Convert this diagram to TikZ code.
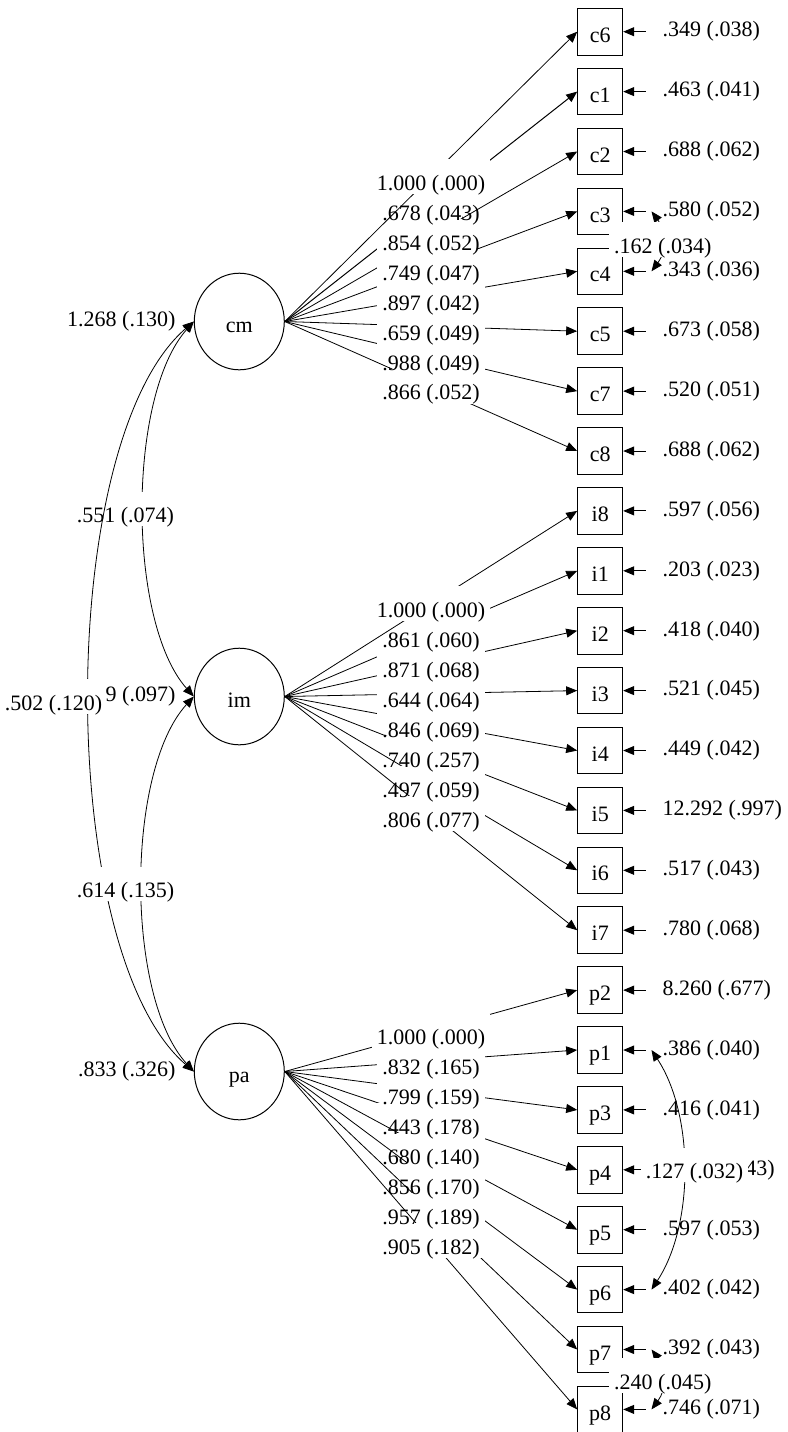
\documentclass[tikz,border=0pt]{standalone}
\usepackage{fontspec}
\setmainfont{Liberation Serif}
\usetikzlibrary{positioning}
\usetikzlibrary{shapes.geometric}
\usetikzlibrary{arrows.meta}
\pgfdeclarelayer{front}
\pgfsetlayers{main,front}
\tikzset{obs/.style = {draw, rectangle, minimum width=22.5pt, minimum height=23.3pt, inner sep=0pt, text height=10.6pt, text depth=0pt, node distance=6.15pt}}
\tikzset{lat/.style = {draw, ellipse, minimum width=45pt, minimum height=48.3pt, inner sep=0pt, text height=11pt, text depth=0pt}}
\tikzset{lbl/.style = {inner xsep=2.5pt, inner ysep=0pt, text height=15.5pt, text depth=1.8pt}}
\tikzset{lblbox/.style = {lbl, fill=white}}
\tikzset{res/.style = {anchor=west, inner sep=0pt}}
\tikzset{var/.style = {anchor=east, inner sep=0pt}}
\tikzset{load/.style = {-{Triangle[length=5.5pt,width=4.5pt]}}}
\tikzset{cov/.style = {{Triangle[length=5.5pt,width=4.5pt]}-{Triangle[length=5.5pt,width=4.5pt]}}}

\begin{document}
\begin{tikzpicture}[x=0.5pt, y=-0.5pt, line width=0.5pt, font=\fontsize{11}{13}\selectfont]
\useasboundingbox (0,0) rectangle (788,1432);
% latent variables
\node[lat](cm) at (239.3,321.5) {cm};
\node[lat](im) at (239.3,696.5) {im};
\node[lat](pa) at (239.3,1071.5) {pa};
% indicators
\node[obs](c6) at (600.2,31.7) {c6};
\node[obs,below = of c6](c1) {c1};
\node[obs,below = of c1](c2) {c2};
\node[obs,below = of c2](c3) {c3};
\node[obs,below = of c3](c4) {c4};
\node[obs,below = of c4](c5) {c5};
\node[obs,below = of c5](c7) {c7};
\node[obs,below = of c7](c8) {c8};
\node[obs,below = of c8](i8) {i8};
\node[obs,below = of i8](i1) {i1};
\node[obs,below = of i1](i2) {i2};
\node[obs,below = of i2](i3) {i3};
\node[obs,below = of i3](i4) {i4};
\node[obs,below = of i4](i5) {i5};
\node[obs,below = of i5](i6) {i6};
\node[obs,below = of i6](i7) {i7};
\node[obs,below = of i7](p2) {p2};
\node[obs,below = of p2](p1) {p1};
\node[obs,below = of p1](p3) {p3};
\node[obs,below = of p3](p4) {p4};
\node[obs,below = of p4](p5) {p5};
\node[obs,below = of p5](p6) {p6};
\node[obs,below = of p6](p7) {p7};
\node[obs,below = of p7](p8) {p8};
% residual variances
\foreach \v/\val in {c6/.349 (.038), c1/.463 (.041), c2/.688 (.062), c3/.580 (.052), c4/.343 (.036), c5/.673 (.058), c7/.520 (.051), c8/.688 (.062),
  i8/.597 (.056), i1/.203 (.023), i2/.418 (.040), i3/.521 (.045), i4/.449 (.042), i5/12.292 (.997), i6/.517 (.043), i7/.780 (.068),
  p2/8.260 (.677), p1/.386 (.040), p3/.416 (.041), p5/.597 (.053), p6/.402 (.042), p7/.392 (.043), p8/.746 (.071)} {
  \coordinate (t\v) at ([xshift=11.15pt]\v.east);
  \node[res](r\v) at ([xshift=19.5pt]\v.east) {\val};
  \draw[load] (t\v) -- (\v);
}
\coordinate (tp4) at ([xshift=11.15pt]p4.east);
\node[var](rp4) at ([xshift=76pt]p4.east) {43)};
\draw[load] (tp4) -- (p4);
% loadings
\foreach \v/\val in {c1/.678 (.043), c2/.854 (.052), c3/.749 (.047), c4/.897 (.042), c5/.659 (.049), c6/1.000 (.000), c7/.988 (.049), c8/.866 (.052)} {
  \draw[load] (cm.east) -- node[lblbox](l\v){\phantom{\val}} (\v.west);
  \begin{pgfonlayer}{front}\node[lbl] at (l\v) {\val};\end{pgfonlayer}
}
\foreach \v/\val in {i1/.861 (.060), i2/.871 (.068), i3/.644 (.064), i4/.846 (.069), i5/.740 (.257), i6/.497 (.059), i7/.806 (.077), i8/1.000 (.000)} {
  \draw[load] (im.east) -- node[lblbox](l\v){\phantom{\val}} (\v.west);
  \begin{pgfonlayer}{front}\node[lbl] at (l\v) {\val};\end{pgfonlayer}
}
\foreach \v/\val in {p1/.832 (.165), p2/1.000 (.000), p3/.799 (.159), p4/.443 (.178), p5/.680 (.140), p6/.856 (.170), p7/.957 (.189), p8/.905 (.182)} {
  \draw[load] (pa.east) -- node[lblbox](l\v){\phantom{\val}} (\v.west);
  \begin{pgfonlayer}{front}\node[lbl] at (l\v) {\val};\end{pgfonlayer}
}
% residual covariances
\draw[cov] ([xshift=3pt]tc3) .. controls +(15,20) and +(15,-20) .. node[lblbox,yshift=1pt]{.162 (.034)} ([xshift=3pt]tc4);
\draw[cov] ([xshift=3pt]tp1) .. controls +(42.7,65) and +(42.7,-65) .. node[lblbox,xshift=5.5pt,yshift=2.5pt]{.127 (.032)} ([xshift=3pt]tp6);
\draw[cov] ([xshift=3pt]tp7) .. controls +(15,20) and +(15,-20) .. node[lblbox,yshift=2pt]{.240 (.045)} ([xshift=3pt]tp8);
% factor covariances
\draw[cov] (cm.west) .. controls +(-66.7,75) and +(-66.7,-75) .. node[lblbox,xshift=-9.15pt]{.551 (.074)} (im.west);
\draw[cov] (cm.west) .. controls +(-139,120) and +(-139,-120) .. node[lblbox,xshift=-18pt]{.502 (.120)} (pa.west);
\draw[cov] (im.west) .. controls +(-68.4,75) and +(-68.4,-75) .. node[lblbox,xshift=-8.5pt]{.614 (.135)} (pa.west);
% factor variances
\node[var](vcm) at ([xshift=-9pt]cm.west) {1.268 (.130)};
\node[var](vim) at ([xshift=-9pt]im.west) {9 (.097)};
\node[var](vpa) at ([xshift=-9pt]pa.west) {.833 (.326)};
\end{tikzpicture}
\end{document}
